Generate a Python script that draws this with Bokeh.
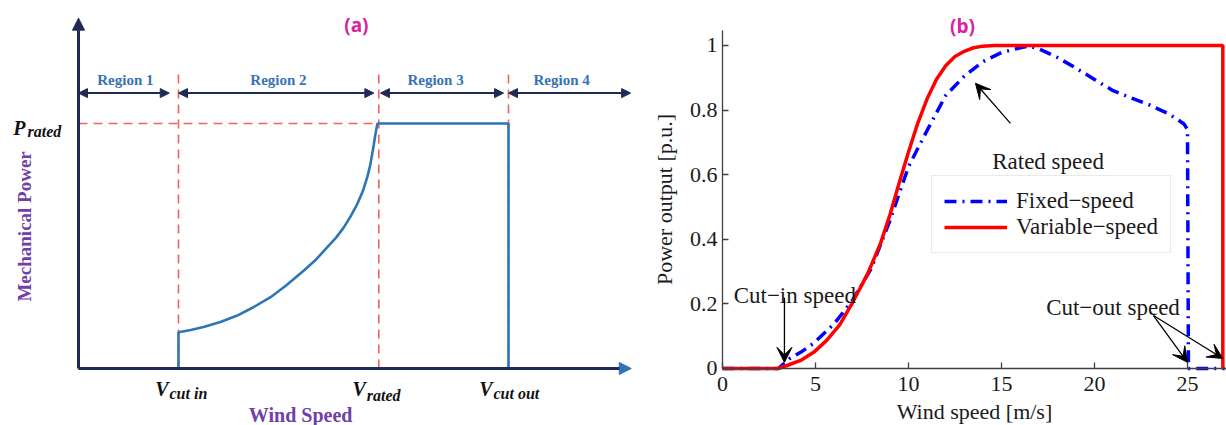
import math
from bokeh.plotting import figure
from bokeh.models import (Range1d, Arrow, NormalHead, VeeHead, ColumnDataSource,
                          Legend, LegendItem, FixedTicker, LinearAxis)
from bokeh.layouts import row
from bokeh.core.properties import value
from bokeh.embed import file_html
from bokeh.resources import INLINE

# ---------------- panel (a): schematic power curve ----------------
v_cut_in = 3.03
v_rated = 9.1
v_cut_out = 13.03
p_rated = 1.0
axis_end_v = 16.75
curve_end_v = 16.5
guide_top = 1.21
region_arrow_p = 1.124
region_start = [0.0, 3.03, 9.15, 13.03]
region_end = [2.75, 8.95, 12.88, 16.73]
region_labels = ["Region 1", "Region 2", "Region 3", "Region 4"]
region_label_v = [1.42, 6.06, 10.82, 14.64]
ramp_v = [3.03, 3.4, 3.79, 4.3, 4.81, 5.3, 5.82, 6.3, 6.83, 7.2, 7.54, 7.8, 8.04, 8.25,
          8.45, 8.62, 8.75, 8.84, 8.90, 8.95, 8.99, 9.03, 9.06]
ramp_p = [0.148, 0.157, 0.169, 0.19, 0.216, 0.25, 0.291, 0.34, 0.400, 0.445, 0.495, 0.533,
          0.576, 0.622, 0.672, 0.725, 0.781, 0.83, 0.876, 0.915, 0.95, 0.98, 1.0]
speed_marks = [v_cut_in, v_rated, v_cut_out]
speed_subs = ["cut in", "rated", "cut out"]

# ---------------- panel (b): power curves ----------------
wind_fixed = [0, 3.0, 3.6, 4.2, 4.9, 6.0, 7.0, 8.0, 9.0, 10.0, 11.0, 12.0, 13.0, 14.0,
              15.0, 16.0, 16.5, 17.0, 18.0, 19.0, 20.0, 21.0, 22.0, 23.0, 24.0, 24.8,
              25.0, 25.05, 27.0]
power_fixed = [0, 0, 0.03, 0.05, 0.078, 0.138, 0.212, 0.31, 0.458, 0.625, 0.737, 0.845,
               0.905, 0.95, 0.978, 0.993, 0.998, 0.99, 0.963, 0.93, 0.895, 0.86, 0.837,
               0.815, 0.788, 0.758, 0.74, 0.0, 0.0]
wind_variable = [0, 3.0, 3.5, 4.2, 4.9, 5.6, 6.3, 7.0, 7.8, 8.5, 9.0, 9.5, 10.0, 10.5,
                 11.0, 11.5, 12.0, 12.5, 13.0, 13.5, 14.0, 14.6, 26.9, 26.9]
power_variable = [0, 0, 0.01, 0.025, 0.05, 0.087, 0.135, 0.205, 0.293, 0.388, 0.475,
                  0.575, 0.67, 0.76, 0.835, 0.895, 0.937, 0.966, 0.982, 0.993, 0.998,
                  1.0, 1.0, 0.0]
x_ticks = [0, 5, 10, 15, 20, 25]
y_ticks = [0.0, 0.2, 0.4, 0.6, 0.8, 1.0]
y_tick_labels = ["0", "0.2", "0.4", "0.6", "0.8", "1"]
ann_text = ["Rated speed", "Cut\u2212in speed", "Cut\u2212out speed"]
ann_x = [14.5, 0.6, 17.4]
ann_y = [0.642, 0.225, 0.188]
arr_x0 = [15.48, 3.33, 23.17, 23.17]
arr_y0 = [0.759, 0.219, 0.164, 0.164]
arr_x1 = [13.6, 3.33, 25.0, 26.9]
arr_y1 = [0.883, 0.019, 0.019, 0.031]

NAVY = "#1f2a56"
CURVE = "#2e75b6"
GUIDE = "#f0625f"
REGION_TXT = "#3573b5"
PURPLE = "#7040a8"
MAGENTA = "#d6249f"
SERIF = "Liberation Serif"

# ======================= panel (a) =======================
pa = figure(width=640, height=425, x_range=Range1d(-2.3636, 17.03), y_range=Range1d(-0.2327, 1.502),
            output_backend="svg", toolbar_location=None, min_border=0,
            x_axis_location=None, y_axis_location=None)
pa.grid.visible = False
pa.outline_line_color = None

# dashed guides
pa.segment(x0=speed_marks + [0.0], y0=[0.0, 0.0, 0.0, p_rated],
           x1=speed_marks + [v_rated], y1=[guide_top] * 3 + [p_rated],
           line_color=GUIDE, line_width=1.6, line_dash="9 6")

# axes drawn as arrows
pa.add_layout(Arrow(x_start=0, y_start=0, x_end=0, y_end=1.43, line_color=NAVY, line_width=3,
                    end=NormalHead(size=12, fill_color=NAVY, line_color=NAVY)))
pa.add_layout(Arrow(x_start=0, y_start=0, x_end=axis_end_v, y_end=0, line_color=NAVY, line_width=3,
                    end=NormalHead(size=12, fill_color=CURVE, line_color=CURVE)))

# power curve
curve_v = [0.0, v_cut_in] + ramp_v + [v_cut_out, v_cut_out, curve_end_v]
curve_p = [0.0, 0.0] + ramp_p + [p_rated, 0.0, 0.0]
pa.line(curve_v, curve_p, line_color=CURVE, line_width=2.6)

# region arrows
reg_src = ColumnDataSource(dict(x0=region_start, x1=region_end, y=[region_arrow_p] * 4))
pa.add_layout(Arrow(x_start="x0", y_start="y", x_end="x1", y_end="y", source=reg_src,
                    line_color=NAVY, line_width=2,
                    start=NormalHead(size=9, fill_color=NAVY, line_color=NAVY),
                    end=NormalHead(size=9, fill_color=NAVY, line_color=NAVY)))
pa.text(x=region_label_v, y=[1.176] * 4, text=region_labels, text_font=value(SERIF),
        text_font_style="bold", text_font_size="15px", text_color=REGION_TXT,
        text_align="center", text_baseline="alphabetic")

# P_rated
pa.text(x=[0.0], y=[p_rated], text=["P"], x_offset=-53, y_offset=5, text_font=value(SERIF),
        text_font_style="bold italic", text_font_size="20px", text_color="#111111",
        text_align="right", text_baseline="alphabetic")
pa.text(x=[0.0], y=[p_rated], text=["rated"], x_offset=-51, y_offset=8, text_font=value(SERIF),
        text_font_style="bold italic", text_font_size="16px", text_color="#111111",
        text_align="left", text_baseline="alphabetic")

# V labels
vsrc = ColumnDataSource(dict(x=speed_marks, y=[0.0] * 3, V=["V"] * 3, sub=speed_subs,
                             xo=[-10, -13, -16], xs=[-9, -12, -15], yo_sub=[25, 27, 25]))
pa.text(x="x", y="y", text="V", source=vsrc, x_offset="xo", y_offset=21, text_font=value(SERIF),
        text_font_style="bold italic", text_font_size="20px", text_color="#111111",
        text_align="right", text_baseline="alphabetic")
pa.text(x="x", y="y", text="sub", source=vsrc, x_offset="xs", y_offset="yo_sub",
        text_font=value(SERIF), text_font_style="bold italic", text_font_size="16px",
        text_color="#111111", text_align="left", text_baseline="alphabetic")

# axis titles and panel tag
pa.text(x=[0.0], y=[0.58], text=["Mechanical Power"], x_offset=-54, angle=math.pi / 2,
        text_font=value(SERIF), text_font_style="bold", text_font_size="19px",
        text_color=PURPLE, text_align="center", text_baseline="middle")
pa.text(x=[6.73], y=[0.0], text=["Wind Speed"], y_offset=47, text_font=value(SERIF),
        text_font_style="bold", text_font_size="20px", text_color=PURPLE,
        text_align="center", text_baseline="alphabetic")
pa.text(x=[8.42], y=[1.40], text=["(a)"], text_font=value("Open Sans"), text_font_style="bold",
        text_font_size="19px", text_color=MAGENTA, text_align="center", text_baseline="middle")

# ======================= panel (b) =======================
pb = figure(width=586, height=425, x_range=Range1d(-4.409, 27.097), y_range=Range1d(-0.1765, 1.1393),
            output_backend="svg", toolbar_location=None, min_border=0,
            x_axis_location=None, y_axis_location=None)
pb.grid.visible = False
pb.outline_line_color = None

r_fixed = pb.line(wind_fixed, power_fixed, line_color="#0000ff", line_width=3.5,
                  line_dash="12 6 2 6")
r_var = pb.line(wind_variable, power_variable, line_color="#ff0000", line_width=3.5)

xaxis = LinearAxis(fixed_location=0, bounds=(0, 27.8), ticker=FixedTicker(ticks=x_ticks),
                   axis_label="Wind speed [m/s]")
yaxis = LinearAxis(fixed_location=0, bounds=(0, 1.045), ticker=FixedTicker(ticks=y_ticks),
                   axis_label="Power output [p.u.]")
yaxis.major_label_overrides = dict(zip(y_ticks, y_tick_labels))
for ax in (xaxis, yaxis):
    ax.major_tick_in = 6
    ax.major_tick_out = 0
    ax.minor_tick_line_color = None
    ax.axis_line_color = "#404040"
    ax.axis_line_width = 1.3
    ax.major_tick_line_color = "#404040"
    ax.major_tick_line_width = 1.3
    ax.major_label_text_font = SERIF
    ax.major_label_text_font_size = "22px"
    ax.major_label_text_color = "#1a1a1a"
    ax.axis_label_text_font = SERIF
    ax.axis_label_text_font_size = "22px"
    ax.axis_label_text_font_style = "normal"
    ax.axis_label_text_color = "#1a1a1a"
xaxis.major_label_standoff = 9
xaxis.axis_label_standoff = 4
yaxis.major_label_standoff = 5
yaxis.axis_label_standoff = 10
pb.add_layout(xaxis, "below")
pb.add_layout(yaxis, "left")

legend = Legend(items=[LegendItem(label="Fixed\u2212speed", renderers=[r_fixed]),
                       LegendItem(label="Variable\u2212speed", renderers=[r_var])],
                location=(291, 172), margin=0, padding=12, spacing=0,
                glyph_width=63, glyph_height=24, label_standoff=9,
                label_text_font=SERIF, label_text_font_size="23px",
                label_text_color="#1a1a1a", border_line_color="#d4d4d4",
                background_fill_color="white", background_fill_alpha=1.0)
pb.add_layout(legend)

pb.text(x=ann_x, y=ann_y, text=ann_text, text_font=value(SERIF), text_font_size="23px",
        text_color="#1a1a1a", text_align="left", text_baseline="alphabetic")
arr_src = ColumnDataSource(dict(x0=arr_x0, y0=arr_y0, x1=arr_x1, y1=arr_y1))
pb.add_layout(Arrow(x_start="x0", y_start="y0", x_end="x1", y_end="y1", source=arr_src,
                    line_color="black", line_width=1.3,
                    end=VeeHead(size=15, fill_color="black", line_color="black")))
pb.text(x=[12.9], y=[1.059], text=["(b)"], text_font=value("Open Sans"), text_font_style="bold",
        text_font_size="19px", text_color=MAGENTA, text_align="center", text_baseline="middle")

layout = row(pa, pb)
open("out.html", "w").write(file_html(layout, INLINE, "Wind turbine power curves"))
